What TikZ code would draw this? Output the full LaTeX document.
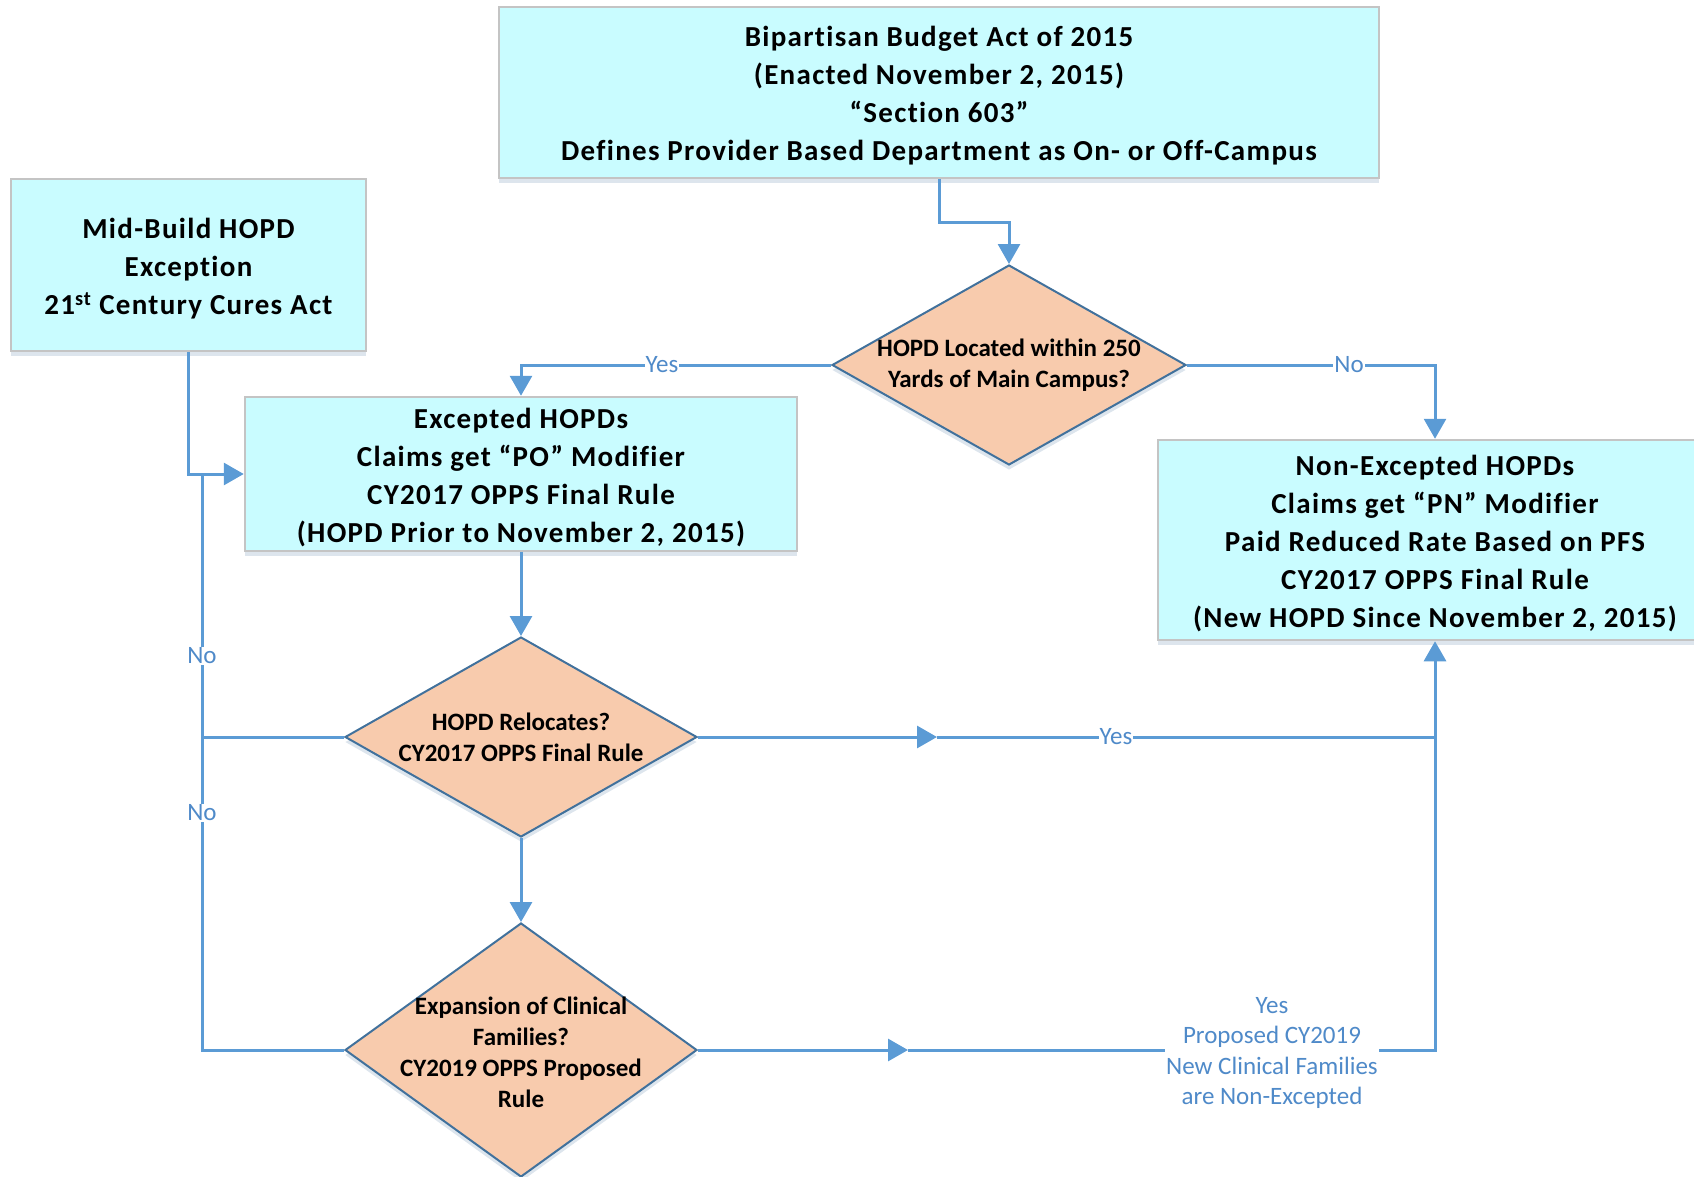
\documentclass[tikz,border=0pt]{standalone}
\usepackage{fontspec}
\setmainfont{Carlito}[Ligatures={NoCommon}]
\newfontfamily\boxfont[LetterSpace=4.5,Ligatures={NoCommon}]{Carlito}
\usetikzlibrary{shapes.geometric,arrows.meta,shadows}
\definecolor{boxfill}{HTML}{C9FCFF}
\definecolor{boxdraw}{HTML}{C4C4C4}
\definecolor{dfill}{HTML}{F8CBAD}
\definecolor{ddraw}{HTML}{41719C}
\definecolor{conn}{HTML}{5B9BD5}
\definecolor{lblc}{HTML}{4F8AC9}
\newcommand\topgap{\rule{0pt}{27pt}}
\begin{document}
\begin{tikzpicture}[x=1pt,y=-1pt,
  shad/.style={drop shadow={shadow xshift=0pt, shadow yshift=-5pt, opacity=0.18, fill=ddraw}},
  box/.style={draw=boxdraw, line width=2.5pt, fill=boxfill, align=center,
    font=\fontsize{29}{38}\boxfont\bfseries, inner sep=0pt, shad},
  dia/.style={shape=diamond, draw=ddraw, line width=2pt, fill=dfill, inner sep=0pt, shad},
  dtext/.style={align=center, font=\fontsize{25}{31}\selectfont\bfseries, inner sep=0pt},
  lbl/.style={text=lblc, fill=white, inner sep=1pt, align=center, font=\fontsize{25}{30.5}\selectfont},
  line/.style={draw=conn, line width=3pt},
  arr/.style={line, -{Triangle[length=20pt,width=22pt]}}]
\useasboundingbox (0,0) rectangle (1694,1177);
\clip (0,0) rectangle (1694,1177);

% boxes
\node[box, minimum width=880pt, minimum height=171pt] (top) at (939,92.5)
  {\topgap Bipartisan Budget Act of 2015\\(Enacted November 2, 2015)\\“Section 603”\\Defines Provider Based Department as On- or Off-Campus};
\node[box, minimum width=355pt, minimum height=172pt] (mid) at (188.5,265)
  {\topgap Mid-Build HOPD\\Exception\\21\textsuperscript{st} Century Cures Act};
\node[box, minimum width=552pt, minimum height=154pt] (exc) at (521,474)
  {\topgap Excepted HOPDs\\Claims get “PO” Modifier\\CY2017 OPPS Final Rule\\(HOPD Prior to November 2, 2015)};
\node[box, minimum width=554pt, minimum height=200pt] (nonexc) at (1435,540)
  {\topgap Non-Excepted HOPDs\\Claims get “PN” Modifier\\Paid Reduced Rate Based on PFS\\CY2017 OPPS Final Rule\\(New HOPD Since November 2, 2015)};

% diamonds
\node[dia, minimum width=354pt, minimum height=200pt] (d1) at (1009,365) {};
\node[dtext] (d1t) at (d1.center) {HOPD Located within 250\\Yards of Main Campus?};
\node[dia, minimum width=352pt, minimum height=200pt] (d2) at (521,737) {};
\node[dtext] (d2t) at (d2.center) {HOPD Relocates?\\CY2017 OPPS Final Rule};
\node[dia, minimum width=352pt, minimum height=254pt] (d3) at (521,1050) {};
\node[dtext] (d3t) at (521,1052) {Expansion of Clinical\\Families?\\CY2019 OPPS Proposed\\Rule};

% helper coordinates
\coordinate (c1) at (202,474);
\coordinate (c2) at (202,737);
\coordinate (c3) at (202,1050);
\coordinate (m1) at (937,737);
\coordinate (m2) at (908,1050);
\coordinate (r2) at (1435,737);
\coordinate (r3) at (1435,1050);

% connectors
\draw[arr] (top.south) -- ++(0,43) -| (d1.north);
\draw[arr] (d1.west) -| (exc.north);
\draw[arr] (d1.east) -| (nonexc.north);
\draw[arr] (mid.south) |- (exc.west);
\draw[line] (d3.west) -- (c3) -- (c1);
\draw[line] (d2.west) -- (c2);
\draw[arr] (exc.south) -- (d2.north);
\draw[arr] (d2.south) -- (d3.north);
\draw[arr] (d2.east) -- (m1);
\draw[line] (m1) -- (r2);
\draw[arr] (r2) -- (nonexc.south);
\draw[arr] (d3.east) -- (m2);
\draw[line] (m2) -- (r3) -- (r2);

% labels
\node[lbl] (l1) at (662,365) {Yes};
\node[lbl] (l2) at (1349,365) {No};
\node[lbl] (l3) at (1116,737) {Yes};
\node[lbl] (l4) at (202,656) {No};
\node[lbl] (l5) at (202,813) {No};
\node[lbl] (l6) at (1272,1053) {Yes\\Proposed CY2019\\New Clinical Families\\are Non-Excepted};
\end{tikzpicture}
\end{document}
